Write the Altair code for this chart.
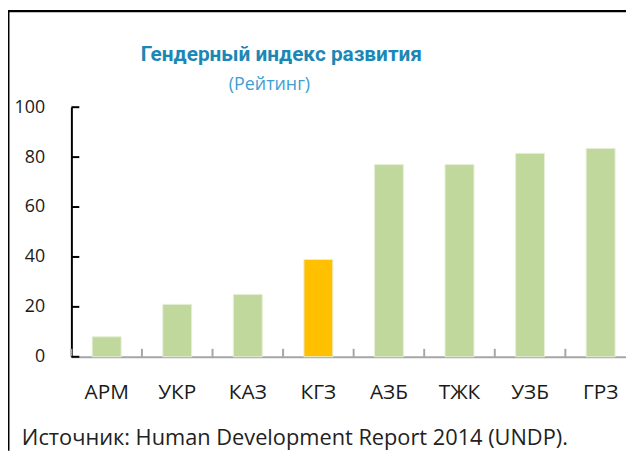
import altair as alt
import pandas as pd

categories = ["АРМ", "УКР", "КАЗ", "КГЗ", "АЗБ", "ТЖК", "УЗБ", "ГРЗ"]
values = [8, 21, 25, 39, 77, 77, 81.5, 83.5]
highlight = [False, False, False, True, False, False, False, False]
y_ticks = [0, 20, 40, 60, 80, 100]
title_text = "Гендерный индекс развития"
subtitle_text = "(Рейтинг)"
source_text = "Источник: Human Development Report 2014 (UNDP)."

W, H = 570, 252
FONT = "Open Sans"

df = pd.DataFrame({
    "cat": categories,
    "val": values,
    "hl": ["hl" if h else "base" for h in highlight],
})
ticks_df = pd.DataFrame({"t": y_ticks})

x_axis = alt.Axis(title=None, labelAngle=0, labelFont=FONT, labelFontSize=21,
                  labelColor="#1a1a1a", labelPadding=25, domainColor="#a6a6a6",
                  domainWidth=2, ticks=False)
y_axis = alt.Axis(title=None, values=y_ticks, grid=False, ticks=False,
                  domainColor="#000000", domainWidth=2, labelPadding=27,
                  labelFont=FONT, labelFontSize=18, labelColor="#1a1a1a")
x_scale = alt.Scale(paddingInner=0, paddingOuter=0)
y_scale = alt.Scale(domain=[0, 100], nice=False)

bars = alt.Chart(df).mark_bar(
    width=alt.RelativeBandSize(0.41), stroke="#e6efd9", strokeWidth=1
).encode(
    x=alt.X("cat:N", sort=categories, scale=x_scale, axis=x_axis),
    y=alt.Y("val:Q", scale=y_scale, axis=y_axis),
    color=alt.Color("hl:N", scale=alt.Scale(domain=["base", "hl"],
                    range=["#c0d89c", "#ffc000"]), legend=None),
)

x_ticks = alt.Chart(df).mark_rule(color="#a6a6a6", strokeWidth=2).encode(
    x=alt.X("cat:N", sort=categories, scale=x_scale, axis=x_axis, bandPosition=0),
    y=alt.value(H),
    y2=alt.value(H - 8),
)

y_tick_marks = alt.Chart(ticks_df).mark_rule(color="#000000", strokeWidth=2).encode(
    y=alt.Y("t:Q", scale=y_scale, axis=y_axis),
    x=alt.value(0),
    x2=alt.value(8),
)

title = alt.Chart(pd.DataFrame({"t": [title_text]})).mark_text(
    font="Roboto", fontSize=21, fontWeight="bold", color="#1b87b5",
    align="center", baseline="alphabetic"
).encode(text="t:N", x=alt.value(212), y=alt.value(-47))

subtitle = alt.Chart(pd.DataFrame({"t": [subtitle_text]})).mark_text(
    font=FONT, fontSize=18, color="#3d9fd3", align="center", baseline="alphabetic"
).encode(text="t:N", x=alt.value(200), y=alt.value(-17))

source = alt.Chart(pd.DataFrame({"t": [source_text]})).mark_text(
    font=FONT, fontSize=22, color="#222222", align="left", baseline="alphabetic"
).encode(text="t:N", x=alt.value(-50), y=alt.value(341))

left_border = alt.Chart(pd.DataFrame({"t": [0]})).mark_rule(
    color="#000000", strokeWidth=3
).encode(x=alt.value(-64), y=alt.value(-98), y2=alt.value(H + 95))

top_border = alt.Chart(pd.DataFrame({"t": [0]})).mark_rule(
    color="#000000", strokeWidth=2.5
).encode(y=alt.value(-97), x=alt.value(-64), x2=alt.value(W + 10))

chart = alt.layer(
    bars, x_ticks, y_tick_marks, title, subtitle, source, left_border, top_border
).properties(
    width=W, height=H,
    padding={"left": 64, "top": 98, "right": -10, "bottom": 95},
    autosize="none",
).configure_view(stroke=None)

chart.save("out.html", embed_options={"renderer": "svg", "actions": False})
